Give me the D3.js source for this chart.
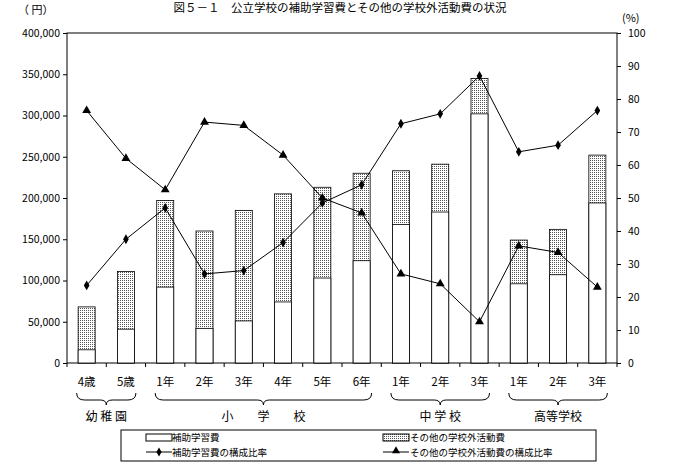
<!DOCTYPE html>
<html><head><meta charset="utf-8">
<script src="https://cdn.jsdelivr.net/npm/d3@7"></script>
<style>body{margin:0;background:#fff}text{font-family:"Noto Sans CJK JP",sans-serif}</style>
</head><body><svg id="c" width="679" height="466"></svg>
<script>
var cats = ["4歳","5歳","1年","2年","3年","4年","5年","6年","1年","2年","3年","1年","2年","3年"]
var hojo = [16000,41000,92000,42000,51000,74000,103000,124000,168000,183000,302000,96000,107000,194000]
var total = [68000,111000,197000,160000,185000,205000,213000,230000,233000,241000,345000,149000,162000,252000]
var hojoRate = [23.5,37.5,47,27,28,36.5,48.5,54,72.5,75.5,87,64,66,76.5]
var sonotaRate = [76.5,62,52.5,73,72,63,50,45.5,27,24,12.5,35.5,33.5,23]
var groups = [["幼 稚 園",0,1],["小　　学　　校",2,7],["中 学 校",8,10],["高等学校",11,13]]
var leftTicks = [0,50000,100000,150000,200000,250000,300000,350000,400000]
var rightTicks = [0,10,20,30,40,50,60,70,80,90,100]

var svg = d3.select("#c")
var L = 67, R = 617, T = 33, B = 363
var x = d3.scaleBand().domain(d3.range(cats.length)).range([L, R])
var y = d3.scaleLinear().domain([0,400000]).range([B, T])
var y2 = d3.scaleLinear().domain([0,100]).range([B, T])

var pat = svg.append("defs").append("pattern").attr("id","dots").attr("patternUnits","userSpaceOnUse").attr("width",2).attr("height",2)
pat.append("rect").attr("width",2).attr("height",2).attr("fill","#fff")
pat.append("rect").attr("width",1).attr("height",1).attr("fill","#555")

svg.append("rect").attr("x",L).attr("y",T).attr("width",R-L).attr("height",B-T).attr("fill","none").attr("stroke","#000")

var fmt = d3.format(",")
svg.append("g").attr("transform","translate("+L+",0)")
    .call(d3.axisLeft(y).tickValues(leftTicks).tickFormat(fmt).tickSize(4))
    .call(function(g){ g.select(".domain").remove(); g.selectAll("text").attr("font-size",10.5) })
svg.append("g").attr("transform","translate("+R+",0)")
    .call(d3.axisRight(y2).tickValues(rightTicks).tickSize(4))
    .call(function(g){ g.select(".domain").remove(); g.selectAll("text").attr("font-size",10.5).attr("dx",4) })
svg.append("g").selectAll("line").data(d3.range(cats.length+1)).enter().append("line")
    .attr("x1",function(i){ return L + i*x.step() }).attr("x2",function(i){ return L + i*x.step() })
    .attr("y1",B).attr("y2",B+4).attr("stroke","#000")

var bw = 17
var bars = svg.append("g")
bars.selectAll(".o").data(total).enter().append("rect")
    .attr("x",function(d,i){ return x(i)+x.bandwidth()/2-bw/2 }).attr("width",bw)
    .attr("y",function(d){ return y(d) }).attr("height",function(d){ return B-y(d) })
    .attr("fill","url(#dots)").attr("stroke","#000").attr("stroke-width",0.8)
bars.selectAll(".h").data(hojo).enter().append("rect")
    .attr("x",function(d,i){ return x(i)+x.bandwidth()/2-bw/2 }).attr("width",bw)
    .attr("y",function(d){ return y(d) }).attr("height",function(d){ return B-y(d) })
    .attr("fill","#fff").attr("stroke","#000").attr("stroke-width",0.8)

function cx(d,i){ return x(i)+x.bandwidth()/2 }
var line = d3.line().x(cx).y(function(d){ return y2(d) })
svg.append("path").attr("d",line(hojoRate)).attr("fill","none").attr("stroke","#000")
svg.append("path").attr("d",line(sonotaRate)).attr("fill","none").attr("stroke","#000")
svg.selectAll(".dm").data(hojoRate).enter().append("path")
    .attr("transform",function(d,i){ return "translate("+cx(d,i)+","+y2(d)+")" })
    .attr("d",d3.symbol(d3.symbolDiamond,28)).attr("fill","#000")
svg.selectAll(".tr").data(sonotaRate).enter().append("path")
    .attr("transform",function(d,i){ return "translate("+cx(d,i)+","+y2(d)+")" })
    .attr("d",d3.symbol(d3.symbolTriangle,34)).attr("fill","#000")

svg.selectAll(".cl").data(cats).enter().append("text")
    .attr("x",cx).attr("y",386).attr("text-anchor","middle").attr("font-size",11.5).text(function(d){ return d })

groups.forEach(function(g){
    var x1 = cx(0,g[1])-10, x2 = cx(0,g[2])+10, m = (x1+x2)/2, t = 393, b = 405
    svg.append("path").attr("fill","none").attr("stroke","#000")
        .attr("d","M"+x1+","+t+" Q"+x1+","+(t+7)+" "+(x1+8)+","+(t+7)+" L"+(m-6)+","+(t+7)+" Q"+m+","+(t+7)+" "+m+","+b+" Q"+m+","+(t+7)+" "+(m+6)+","+(t+7)+" L"+(x2-8)+","+(t+7)+" Q"+x2+","+(t+7)+" "+x2+","+t)
    svg.append("text").attr("x",m).attr("y",421).attr("text-anchor","middle").attr("font-size",12).text(g[0])
})

svg.append("text").attr("x",340).attr("y",12).attr("text-anchor","middle").attr("font-size",11.5).text("図５－１　公立学校の補助学習費とその他の学校外活動費の状況")
svg.append("text").attr("x",18).attr("y",14).attr("font-size",11).text("（ 円）")
svg.append("text").attr("x",622).attr("y",22).attr("font-size",11).text("(%)")

var lg = svg.append("g")
lg.append("rect").attr("x",121).attr("y",430).attr("width",475).attr("height",31).attr("fill","#fff").attr("stroke","#000")
lg.append("rect").attr("x",146).attr("y",434).attr("width",26).attr("height",7).attr("fill","#fff").attr("stroke","#000")
lg.append("text").attr("x",172).attr("y",441).attr("font-size",9.5).text("補助学習費")
lg.append("rect").attr("x",383).attr("y",434).attr("width",26).attr("height",7).attr("fill","url(#dots)").attr("stroke","#000")
lg.append("text").attr("x",410).attr("y",441).attr("font-size",9.5).text("その他の学校外活動費")
lg.append("line").attr("x1",146).attr("x2",172).attr("y1",452).attr("y2",452).attr("stroke","#000")
lg.append("path").attr("transform","translate(159,452)").attr("d",d3.symbol(d3.symbolDiamond,24))
lg.append("text").attr("x",172).attr("y",456).attr("font-size",9.5).text("補助学習費の構成比率")
lg.append("line").attr("x1",383).attr("x2",409).attr("y1",452).attr("y2",452).attr("stroke","#000")
lg.append("path").attr("transform","translate(396,451)").attr("d",d3.symbol(d3.symbolTriangle,28))
lg.append("text").attr("x",410).attr("y",456).attr("font-size",9.5).text("その他の学校外活動費の構成比率")
</script></body></html>
